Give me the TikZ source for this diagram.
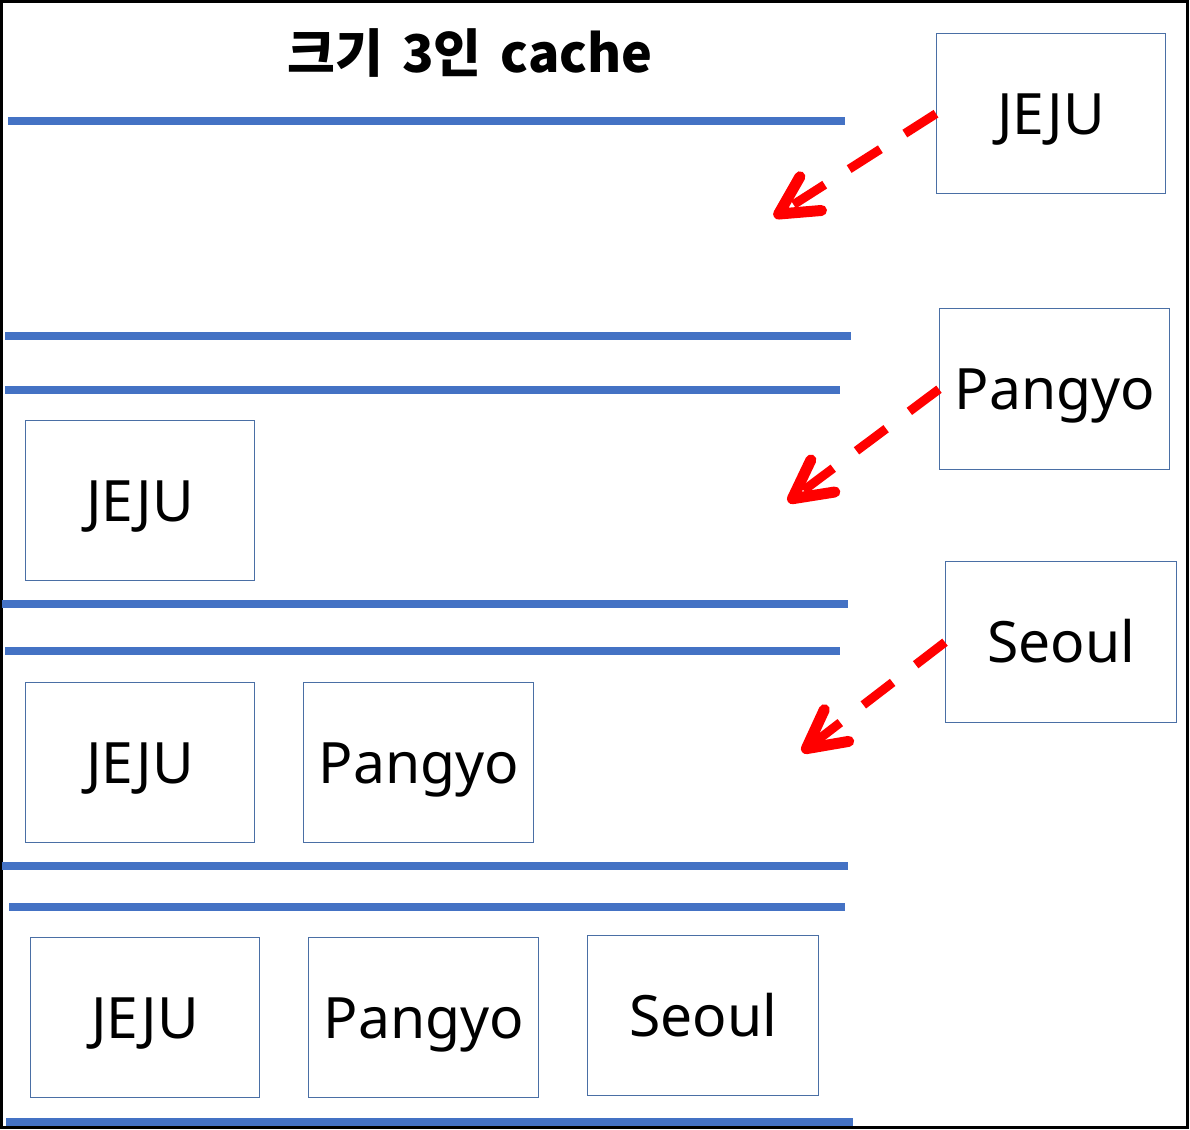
\documentclass[tikz,border=0pt]{standalone}
\usepackage{fontspec}
\setmainfont{Noto Sans}
\newfontfamily\krfont{Noto Sans CJK KR}
\usetikzlibrary{arrows.meta}
\definecolor{barblue}{HTML}{4472C4}
\definecolor{boxline}{HTML}{4A6FA5}
\begin{document}
\begin{tikzpicture}[x=1pt,y=-1pt,
  bar/.style={line width=8pt,barblue},
  item/.style={draw=boxline,line width=1.4pt,minimum width=229pt,minimum height=160pt,inner sep=0pt,font=\fontsize{57}{57}\selectfont,text height=41pt,text depth=0pt,anchor=north west},
  move/.style={draw=red,line width=9pt,dash pattern=on 37pt off 29pt,-{Straight Barb[length=38pt,width=40pt,line width=11pt,round]}}]
\useasboundingbox (0,0) rectangle (1190,1129);
\draw[line width=3pt] (1.5,1.5) rectangle (1187,1127);
\node[font=\krfont\bfseries\fontsize{52}{52}\selectfont,anchor=west,inner sep=0pt] (title) at (287,53) {크기\hspace{0.37em}3인\hspace{0.37em}cache};
% bars
\draw[bar] (8,121) -- (845,121);
\draw[bar] (5,336) -- (851,336);
\draw[bar] (5,390) -- (840,390);
\draw[bar] (2,604) -- (848,604);
\draw[bar] (5,651) -- (840,651);
\draw[bar] (2,866) -- (848,866);
\draw[bar] (9,907) -- (845,907);
\draw[bar] (6,1122) -- (853,1122);
% incoming items
\node[item] (inJ) at (936,33) {JEJU};
\node[item,minimum width=230pt,minimum height=161pt] (inP) at (939,308) {Pangyo};
\node[item,minimum width=231pt,minimum height=161pt] (inS) at (945,561) {Seoul};
% cache states
\node[item] (c1J) at (25,420) {JEJU};
\node[item] (c2J) at (25,682) {JEJU};
\node[item,minimum width=230pt] (c2P) at (303,682) {Pangyo};
\node[item] (c3J) at (30,937) {JEJU};
\node[item,minimum width=230pt] (c3P) at (308,937) {Pangyo};
\node[item,minimum width=231pt] (c3S) at (587,935) {Seoul};
% arrow targets
\coordinate (t1) at (774,217);
\coordinate (t2) at (788,502);
\coordinate (t3) at (802,752);
\draw[move] (inJ.west) -- (t1);
\draw[move] (inP.west) -- (t2);
\draw[move] (inS.west) -- (t3);
\end{tikzpicture}
\end{document}
